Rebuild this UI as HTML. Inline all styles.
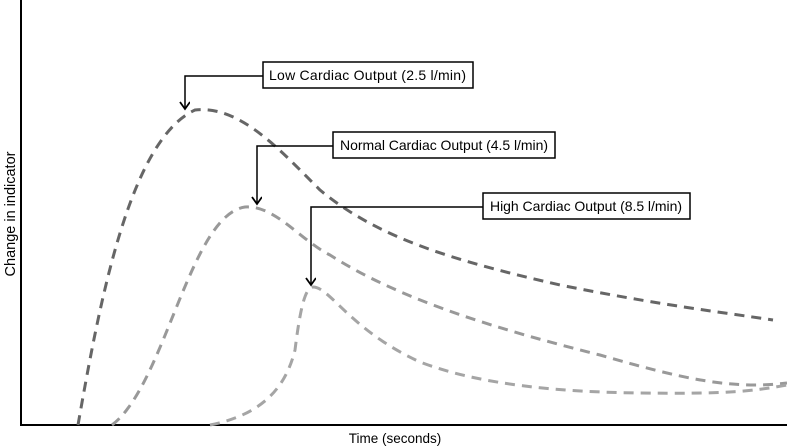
<!DOCTYPE html>
<html><head><style>body{margin:0;background:#fff}svg{display:block}</style></head><body>
<svg width="787" height="447" viewBox="0 0 787 447" xmlns="http://www.w3.org/2000/svg" font-family="Liberation Sans, sans-serif">
<defs><marker id="a" markerWidth="12" markerHeight="12" refX="9" refY="5" orient="auto" markerUnits="userSpaceOnUse"><path d="M2,0 L9,5 L2,10" fill="none" stroke="#000" stroke-width="1.8"/></marker></defs>
<line x1="21" y1="0" x2="21" y2="426" stroke="#000" stroke-width="2"/>
<line x1="20" y1="425" x2="787" y2="425" stroke="#000" stroke-width="2"/>
<text x="0" y="0" font-size="14.5" transform="translate(15,214) rotate(-90)" text-anchor="middle">Change in indicator</text>
<text x="395" y="443" font-size="13.5" text-anchor="middle">Time (seconds)</text>
<g fill="none" stroke-width="3" stroke-dasharray="10,7">
<path d="M78,425 C100,300 130,140 195,110 C240,105 280,150 320,190 C380,240 460,262 560,285 C660,305 720,312 773,320" stroke="#666"/>
<path d="M112,425 C165,385 190,215 245,207 C275,205 300,240 330,255 C400,300 500,330 600,355 C680,378 730,390 787,383" stroke="#999"/>
<path d="M210,425 C260,415 285,390 295,350 C300,310 305,287 313,287 C330,287 350,330 420,362 C480,385 560,392 640,393 C720,394 750,392 787,385" stroke="#a5a5a5"/>
</g>
<g fill="none" stroke="#000" stroke-width="1.5">
<polyline points="263,76 185,76 185,109" marker-end="url(#a)"/>
<polyline points="333,146 257,146 257,204" marker-end="url(#a)"/>
<polyline points="483,207 311,207 311,285" marker-end="url(#a)"/>
<rect x="263" y="62" width="210" height="26" fill="#fff"/>
<rect x="333" y="132" width="222" height="26" fill="#fff"/>
<rect x="483" y="193" width="207" height="26" fill="#fff"/>
</g>
<g font-size="14" fill="#000">
<text x="269" y="80" textLength="197">Low Cardiac Output (2.5 l/min)</text>
<text x="340" y="150" textLength="208">Normal Cardiac Output (4.5 l/min)</text>
<text x="490" y="211" textLength="192">High Cardiac Output (8.5 l/min)</text>
</g>
</svg>
</body></html>
